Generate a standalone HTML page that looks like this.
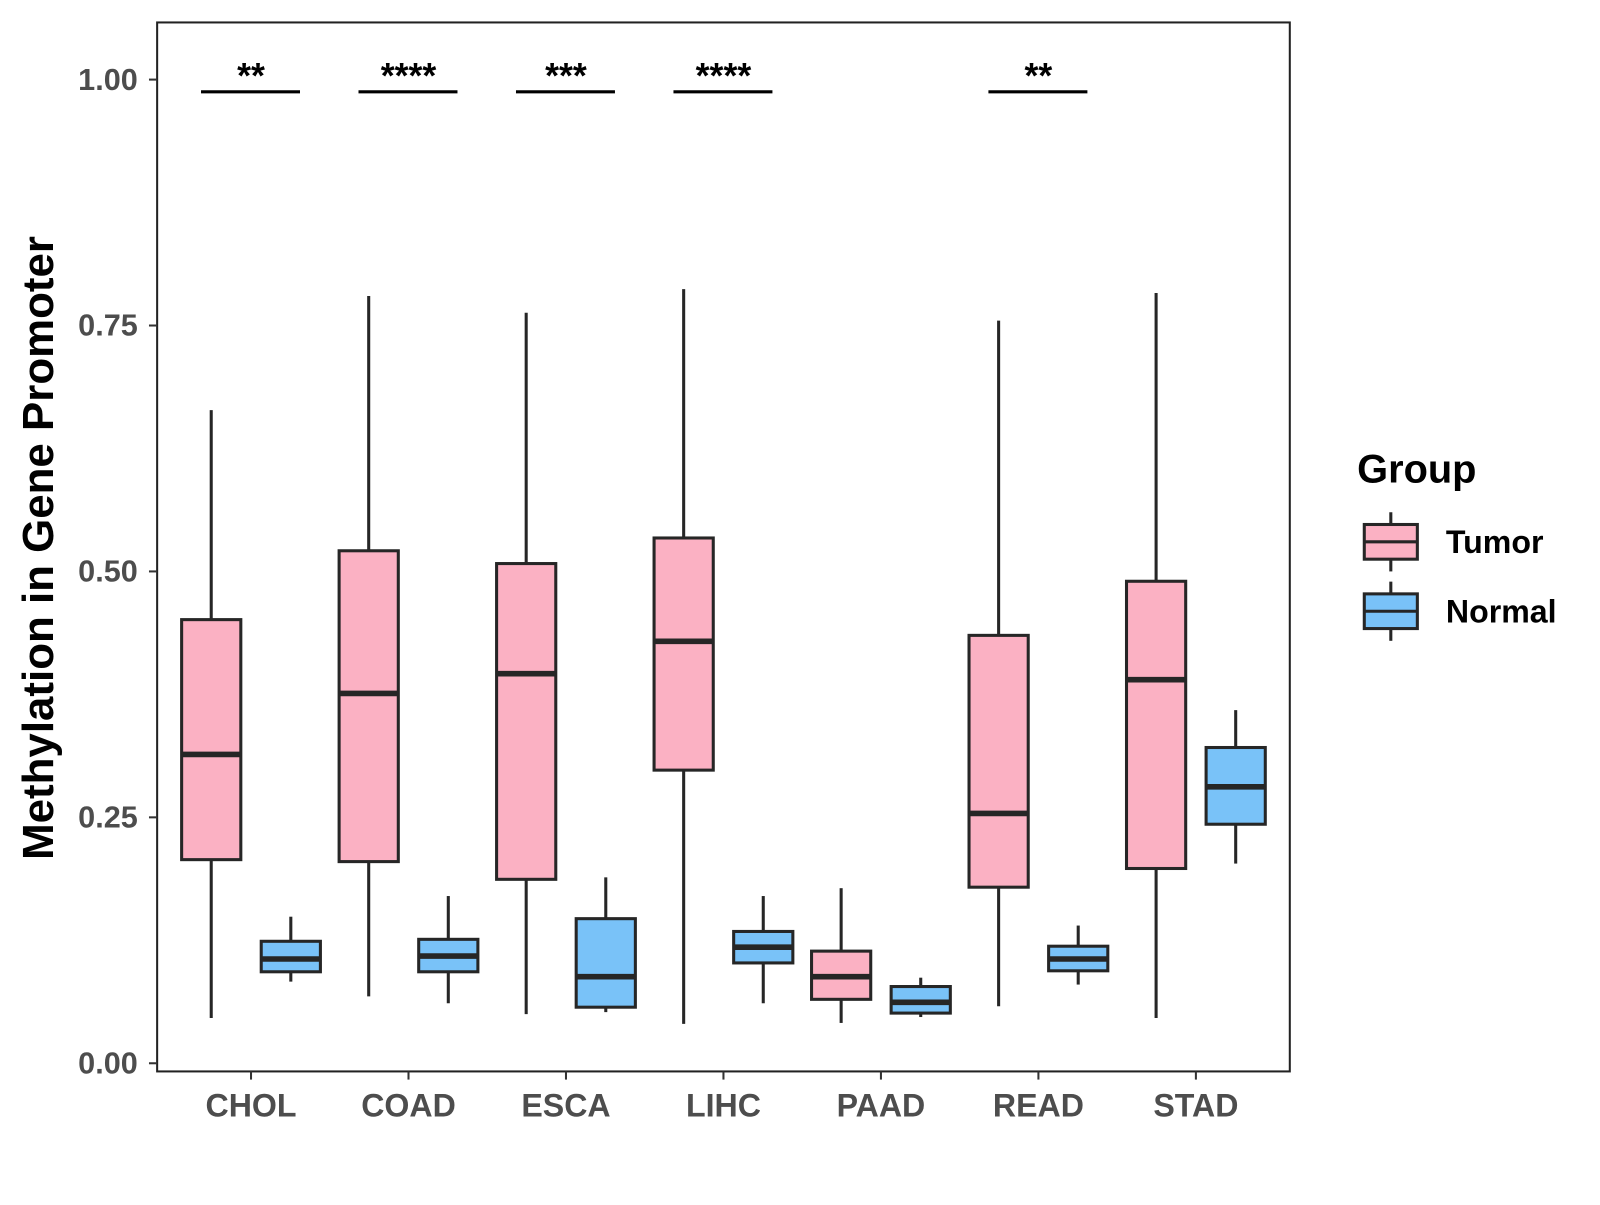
<!DOCTYPE html>
<html><head><meta charset="utf-8"><style>
html,body{margin:0;padding:0;background:#fff;}
svg text{font-family:"Liberation Sans",Arial,sans-serif;font-weight:bold;}
</style></head><body>
<svg id="chart" width="1600" height="1200" viewBox="0 0 1568 1176" xmlns="http://www.w3.org/2000/svg"></svg>
<script>
const categories=["CHOL","COAD","ESCA","LIHC","PAAD","READ","STAD"];
const tumorStats=[[0.046,0.207,0.314,0.451,0.664],[0.068,0.205,0.376,0.521,0.780],[0.050,0.187,0.396,0.508,0.763],[0.040,0.298,0.429,0.534,0.787],[0.041,0.065,0.088,0.114,0.178],[0.058,0.179,0.254,0.435,0.755],[0.046,0.198,0.390,0.490,0.783]];
const normalStats=[[0.083,0.093,0.106,0.124,0.149],[0.061,0.093,0.109,0.126,0.170],[0.052,0.057,0.088,0.147,0.189],[0.061,0.102,0.118,0.134,0.170],[0.047,0.051,0.062,0.078,0.087],[0.080,0.094,0.106,0.119,0.140],[0.203,0.243,0.281,0.321,0.359]];
const sigLabels=["**","****","***","****","","**",""];
const yTicks=[0,0.25,0.5,0.75,1.0];
const yTickLabels=["0.00","0.25","0.50","0.75","1.00"];

const NS="http://www.w3.org/2000/svg";
const svg=document.getElementById('chart');
function y(v){return 1042-v*964;}
function x(i){return 246+i*154.33;}
function mk(tag,attrs,parent){const e=document.createElementNS(NS,tag);for(const k in attrs)e.setAttribute(k,attrs[k]);(parent||svg).appendChild(e);return e;}

const panel=mk('rect',{x:154,y:22,width:1110,height:1028,fill:'none',stroke:'#222','stroke-width':2});



yTicks.forEach((t,i)=>{
  const tk=mk('line',{x1:146,x2:154,y1:y(t),y2:y(t),stroke:'#333','stroke-width':2});
  
  
  const tl=mk('text',{x:135,y:y(t)+10,'text-anchor':'end','font-size':30,fill:'#4d4d4d'});
  tl.textContent=yTickLabels[i];
  
  
});

function drawBox(cx,s,fill,name){
  const g=mk('g',{});
  
  
  mk('line',{x1:cx,x2:cx,y1:y(s[4]),y2:y(s[3]),stroke:'#262626','stroke-width':3},g);
  mk('line',{x1:cx,x2:cx,y1:y(s[1]),y2:y(s[0]),stroke:'#262626','stroke-width':3},g);
  mk('rect',{x:cx-29,y:y(s[3]),width:58,height:y(s[1])-y(s[3]),fill:fill,stroke:'#262626','stroke-width':3},g);
  mk('line',{x1:cx-29,x2:cx+29,y1:y(s[2]),y2:y(s[2]),stroke:'#262626','stroke-width':5.5},g);
}

categories.forEach((c,i)=>{
  const cx=x(i);
  drawBox(cx-39,tumorStats[i],'#FBB1C3','tumor-box-'+c.toLowerCase());
  drawBox(cx+39,normalStats[i],'#79C2F8','normal-box-'+c.toLowerCase());
  const tk=mk('line',{x1:cx,x2:cx,y1:1050,y2:1058,stroke:'#333','stroke-width':2});
  
  
  const tl=mk('text',{x:cx,y:1094,'text-anchor':'middle','font-size':31.5,fill:'#4d4d4d'});
  tl.textContent=c;
  
  
  if(sigLabels[i]){
    const l=mk('line',{x1:cx-49,x2:cx+48,y1:90,y2:90,stroke:'#000','stroke-width':3});
    
    
    const st=mk('text',{x:cx,y:86,'text-anchor':'middle','font-size':35,fill:'#000'});
    st.textContent=sigLabels[i];
    
    
  }
});

const yt=mk('text',{x:0,y:0,transform:'translate(52,537) rotate(-90)','text-anchor':'middle','font-size':43,fill:'#000'});
yt.textContent='Methylation in Gene Promoter';



const lt=mk('text',{x:1330,y:473,'font-size':39,fill:'#000'});
lt.textContent='Group';



[['Tumor','#FBB1C3',531],['Normal','#79C2F8',599]].forEach(([lab,col,cy])=>{
  const g=mk('g',{});
  
  
  mk('line',{x1:1363,x2:1363,y1:cy-29,y2:cy+29,stroke:'#262626','stroke-width':3},g);
  mk('rect',{x:1337,y:cy-17,width:52,height:34,fill:col,stroke:'#262626','stroke-width':3},g);
  mk('line',{x1:1337,x2:1389,y1:cy,y2:cy,stroke:'#262626','stroke-width':3},g);
  const t=mk('text',{x:1417,y:cy+11,'font-size':31.5,fill:'#000'},g);
  t.textContent=lab;
});
</script>
</body></html>
